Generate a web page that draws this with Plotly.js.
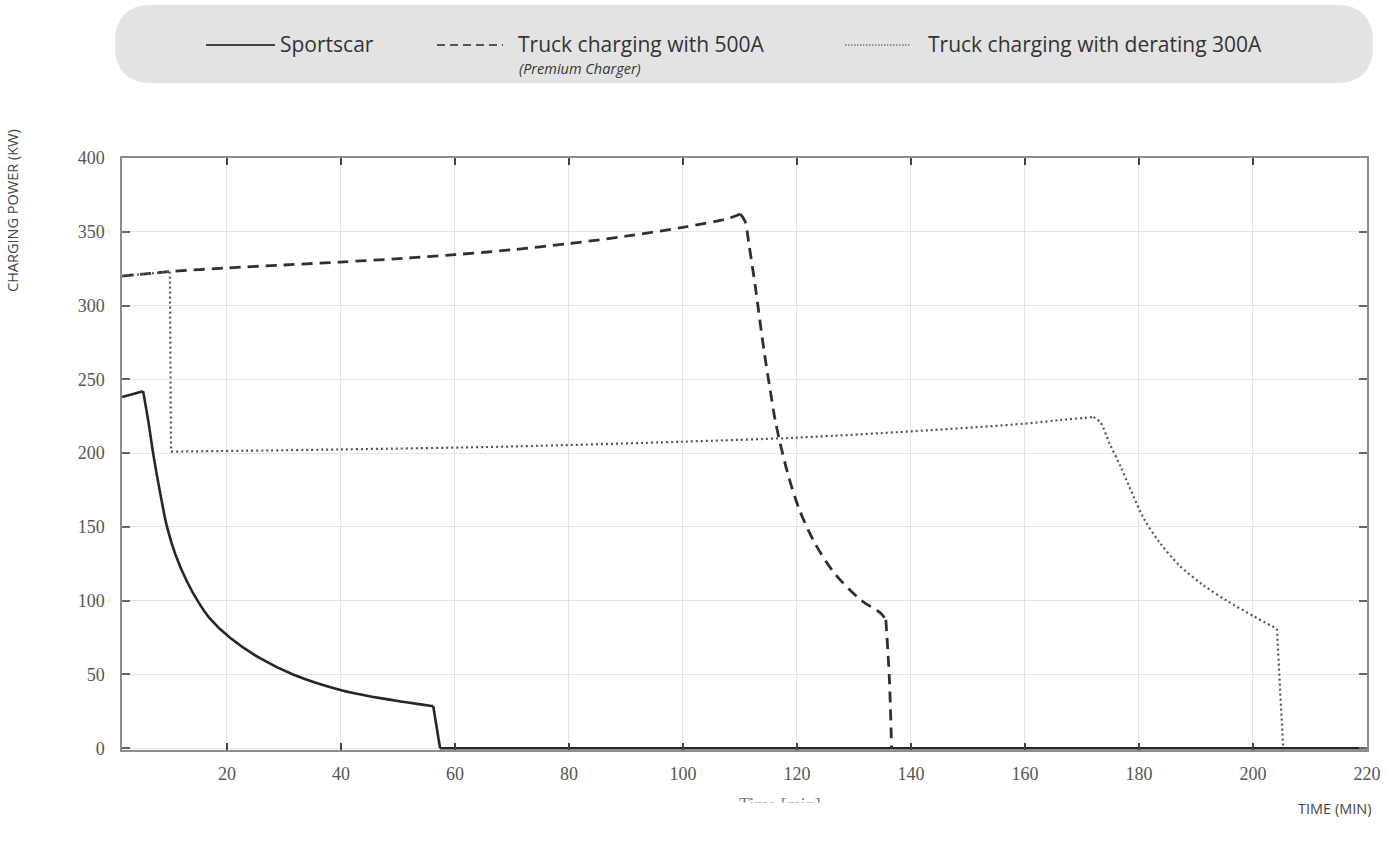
<!DOCTYPE html>
<html>
<head>
<meta charset="utf-8">
<script src="https://cdn.plot.ly/plotly-3.0.1.min.js"></script>
<style>
  html, body { margin: 0; padding: 0; background: #ffffff; }
  #chart { width: 1395px; height: 845px; }
</style>
</head>
<body>
<div id="chart"></div>
<script>
// ---------------- DATA ----------------
const seriesNames = ["Sportscar", "Truck charging with 500A", "Truck charging with derating 300A"];
const legendNote = "(Premium Charger)";

const sportscarTime  = [1.6, 5.3, 6.2, 7.1, 8.2, 9.5, 11, 13, 15, 17, 20.5, 25.8, 31.6, 40.4, 49.2, 56.2, 57.4, 220];
const sportscarPower = [238, 242, 222, 199, 175, 150, 131, 113, 99, 88, 75, 61, 50, 39, 32.5, 28.5, 0, 0];
// indices where the curve has a sharp corner (peak, shoulder, foot)
const sportscarCorners = [0, 1, 15, 16, 17];

const truck500Time  = [1.6, 10, 20, 30, 40, 51, 60, 70, 80, 90, 100, 107.9, 110.1, 110.9, 111.6, 112.8, 114.2, 115.3, 116.3, 118.4, 120.4, 123, 126.5, 131.2, 134.7, 135.6, 136.2, 136.6];
const truck500Power = [320, 323, 325.5, 327.5, 329.5, 332, 334.5, 337.8, 342, 347, 353, 359, 362, 357, 341, 310, 270, 243, 220, 186, 162, 140, 119, 100.5, 91.5, 87, 48, 0];
const truck500Corners = [0, 12, 25, 27];

const truck300Time  = [1.6, 10.0, 10.2, 40, 70, 99.6, 120, 143.6, 160, 166.1, 172.0, 173.2, 174.9, 176.7, 178.4, 180.8, 183.7, 187.2, 191.3, 195.4, 200.1, 204.2, 205.3];
const truck300Power = [320, 323, 201, 202.5, 204.5, 207.7, 210.5, 215.6, 220, 222.4, 224.4, 221, 206, 191.5, 176.5, 156, 139, 123.5, 110.5, 100, 89.5, 81, 0];
const truck300Corners = [0, 1, 2, 10, 21, 22];

const xTickVals = [20, 40, 60, 80, 100, 120, 140, 160, 180, 200, 220];
const xTickText = ["20", "40", "60", "80", "100", "120", "140", "160", "180", "200", "220"];
const yTickVals = [0, 50, 100, 150, 200, 250, 300, 350, 400];
const yTickText = ["0", "50", "100", "150", "200", "250", "300", "350", "400"];

const yTitle = "CHARGING POWER (KW)";
const xTitle = "TIME (MIN)";
const xTitleOriginal = "Time [min]";

// ---------------- LAYOUT HELPERS (pixel -> paper) ----------------
const W = 1395, H = 845;
const PL = 122, PR = 1367, PT = 158, PB = 750;
const fx = p => (p - PL) / (PR - PL);
const fy = p => (PB - p) / (PB - PT);

function roundedRectPath(x0, y0, x1, y1, r) {
  const P = (x, y) => fx(x) + ',' + fy(y);
  return 'M' + P(x0 + r, y0) + ' L' + P(x1 - r, y0) +
         ' Q' + P(x1, y0) + ' ' + P(x1, y0 + r) +
         ' L' + P(x1, y1 - r) +
         ' Q' + P(x1, y1) + ' ' + P(x1 - r, y1) +
         ' L' + P(x0 + r, y1) +
         ' Q' + P(x0, y1) + ' ' + P(x0, y1 - r) +
         ' L' + P(x0, y0 + r) +
         ' Q' + P(x0, y0) + ' ' + P(x0 + r, y0) + ' Z';
}

// one series -> several smooth pieces, split at its sharp corners
function seriesTraces(t, p, corners, name, lineStyle) {
  const out = [];
  for (let i = 0; i < corners.length - 1; i++) {
    const a = corners[i], b = corners[i + 1];
    out.push({
      x: t.slice(a, b + 1), y: p.slice(a, b + 1), name: name, type: 'scatter', mode: 'lines',
      line: Object.assign({ shape: 'spline', smoothing: 0.9 }, lineStyle),
      hoverinfo: 'x+y+name', showlegend: false
    });
  }
  return out;
}

const legendFont = { family: 'Open Sans, sans-serif', size: 21, color: '#333333' };

const shapes = [
  { type: 'path', xref: 'paper', yref: 'paper', path: roundedRectPath(115, 5, 1373, 83, 37),
    fillcolor: '#e3e3e3', line: { width: 0 }, layer: 'below' },
  { type: 'line', xref: 'paper', yref: 'paper', x0: fx(206), x1: fx(275), y0: fy(45), y1: fy(45),
    line: { color: '#444444', width: 2 } },
  { type: 'line', xref: 'paper', yref: 'paper', x0: fx(437), x1: fx(503), y0: fy(45), y1: fy(45),
    line: { color: '#555555', width: 2, dash: '8px,5px' } },
  { type: 'line', xref: 'paper', yref: 'paper', x0: fx(845), x1: fx(910), y0: fy(45), y1: fy(45),
    line: { color: '#777777', width: 1.5, dash: '1.5px,1.5px' } }
];

const annotations = [
  { xref: 'paper', yref: 'paper', x: fx(278), y: fy(44), xanchor: 'left', yanchor: 'middle',
    text: seriesNames[0], showarrow: false, font: legendFont },
  { xref: 'paper', yref: 'paper', x: fx(516), y: fy(44), xanchor: 'left', yanchor: 'middle',
    text: seriesNames[1], showarrow: false, font: legendFont },
  { xref: 'paper', yref: 'paper', x: fx(517), y: fy(68), xanchor: 'left', yanchor: 'middle',
    text: '<i>' + legendNote + '</i>', showarrow: false,
    font: { family: 'Open Sans, sans-serif', size: 14.5, color: '#333333' } },
  { xref: 'paper', yref: 'paper', x: fx(926), y: fy(44), xanchor: 'left', yanchor: 'middle',
    text: seriesNames[2], showarrow: false, font: legendFont },
  { xref: 'paper', yref: 'paper', x: fx(13), y: fy(211), xanchor: 'center', yanchor: 'middle',
    text: yTitle, textangle: -90, showarrow: false,
    font: { family: 'Open Sans, sans-serif', size: 14.5, color: '#444444' } },
  { xref: 'paper', yref: 'paper', x: fx(1373), y: fy(808), xanchor: 'right', yanchor: 'middle',
    text: xTitle, showarrow: false,
    font: { family: 'Open Sans, sans-serif', size: 14.5, color: '#444444' } },
  // original (cropped) axis caption of the scanned figure
  { xref: 'paper', yref: 'paper', x: fx(780), y: fy(793), xanchor: 'center', yanchor: 'top',
    text: xTitleOriginal, showarrow: false,
    font: { family: 'Liberation Serif, serif', size: 18, color: '#777777' } },
  { xref: 'paper', yref: 'paper', x: fx(780), y: fy(802), xanchor: 'center', yanchor: 'top',
    text: ' ', showarrow: false, width: 160, height: 30, bgcolor: '#ffffff',
    borderpad: 0, font: { size: 10, color: '#ffffff' } }
];

const traces = [].concat(
  seriesTraces(sportscarTime, sportscarPower, sportscarCorners, seriesNames[0],
               { color: '#262626', width: 2.6 }),
  seriesTraces(truck500Time, truck500Power, truck500Corners, seriesNames[1],
               { color: '#303030', width: 2.8, dash: '11px,7px' }),
  seriesTraces(truck300Time, truck300Power, truck300Corners, seriesNames[2],
               { color: '#555555', width: 2.2, dash: '2px,3px' })
);

const tickFont = { family: 'Liberation Serif, Times New Roman, serif', size: 18, color: '#555555' };

const layout = {
  width: W, height: H,
  margin: { l: PL, r: W - PR, t: PT, b: H - PB, pad: 0 },
  paper_bgcolor: '#ffffff', plot_bgcolor: '#ffffff',
  showlegend: false,
  xaxis: {
    range: [1.6, 220], tickmode: 'array', tickvals: xTickVals, ticktext: xTickText,
    showgrid: true, gridcolor: '#e4e4e4', gridwidth: 1, zeroline: false,
    showline: true, linecolor: '#8c8c8c', linewidth: 1.5, mirror: 'ticks',
    ticks: 'inside', ticklen: 7, tickwidth: 1.5, tickcolor: '#444444',
    tickfont: tickFont, ticklabelstandoff: 7, fixedrange: true
  },
  yaxis: {
    range: [-1.2, 400], tickmode: 'array', tickvals: yTickVals, ticktext: yTickText,
    showgrid: true, gridcolor: '#e4e4e4', gridwidth: 1, zeroline: false,
    showline: true, linecolor: '#8c8c8c', linewidth: 1.5, mirror: 'ticks',
    ticks: 'inside', ticklen: 8, tickwidth: 1.5, tickcolor: '#666666',
    tickfont: tickFont, ticklabelstandoff: 12, fixedrange: true
  },
  shapes: shapes,
  annotations: annotations
};

Plotly.newPlot('chart', traces, layout, { displayModeBar: false });
</script>
</body>
</html>
